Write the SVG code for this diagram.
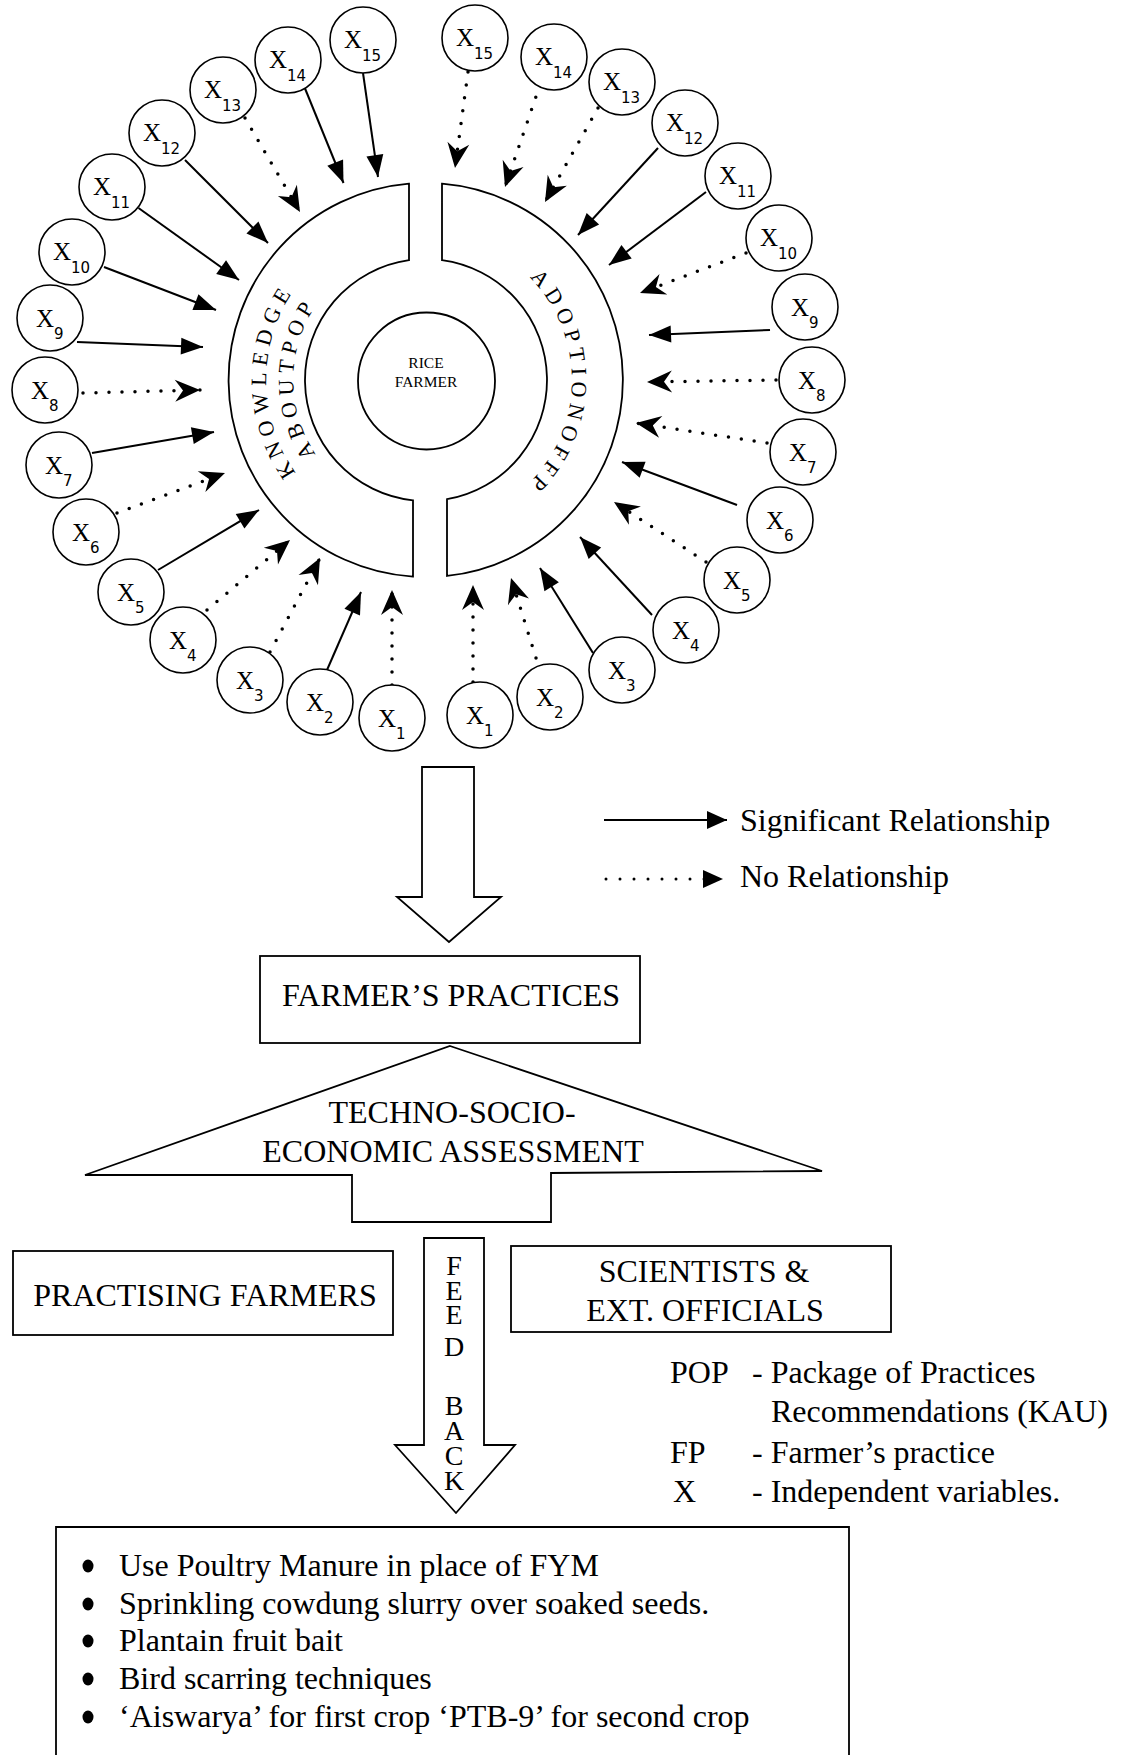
<svg xmlns="http://www.w3.org/2000/svg" width="1128" height="1755" viewBox="0 0 1128 1755">
<style>
.ln{fill:none;stroke:#000;stroke-width:1.8}
.node circle{fill:#fff;stroke:#000;stroke-width:1.6}
.xl{font-family:"Liberation Serif",serif;font-size:25px;fill:#000}
.sub{font-family:"DejaVu Sans",sans-serif;font-size:15px}
.sol{fill:none;stroke:#000;stroke-width:2;marker-end:url(#ah)}
.dot{fill:none;stroke:#000;stroke-width:3.5;stroke-linecap:round;stroke-dasharray:0 13;marker-end:url(#ahd)}
.rt{font-family:"Liberation Serif",serif;font-size:22px;fill:#000}
.t{font-family:"Liberation Serif",serif;font-size:32px;fill:#000}
.tm{font-family:"Liberation Serif",serif;font-size:32px;fill:#000;text-anchor:middle}
.fb{font-family:"Liberation Serif",serif;font-size:28px;fill:#000;text-anchor:middle}
</style>
<defs>
<marker id="ah" markerUnits="userSpaceOnUse" orient="auto" refX="0" refY="0" markerWidth="30" markerHeight="30" style="overflow:visible"><path d="M0,0 L-22,-8.5 L-22,8.5 Z" fill="#000"/></marker>
<marker id="ahd" markerUnits="userSpaceOnUse" orient="auto" refX="0" refY="0" markerWidth="30" markerHeight="30" style="overflow:visible"><path d="M0,0 L-25,-11 L-17,0 L-25,11 Z" fill="#000"/></marker>
<marker id="ahl" markerUnits="userSpaceOnUse" orient="auto" refX="0" refY="0" markerWidth="30" markerHeight="30" style="overflow:visible"><path d="M0,0 L-20,-9 L-20,9 Z" fill="#000"/></marker>
<path id="pk" d="M399.4,537.5 A159.7,159.7 0 0 1 397.2,222.9"/>
<path id="pa" d="M401.4,510.4 A132.7,132.7 0 0 1 404.6,249"/>
<path id="pd" d="M454.05,237 A145.7,145.7 0 0 1 448.5,523.95"/>
</defs>
<rect width="1128" height="1755" fill="#fff"/>

<g id="ring-knowledge">
<path class="ln" d="M409,183.7 A197,197 0 0 0 413,576.6 L413,500.3 A121,121 0 0 1 409,260.2 Z"/>
<text class="rt" style="letter-spacing:6.2px;text-anchor:middle"><textPath href="#pk" startOffset="50%">KNOWLEDGE</textPath></text>
<text class="rt" style="letter-spacing:5.6px;word-spacing:-11.1px;text-anchor:middle"><textPath href="#pa" startOffset="50%">ABOUT POP</textPath></text>
</g>
<g id="ring-adoption">
<path class="ln" d="M442,183.7 A197,197 0 0 1 447,575.9 L447,499.2 A121,121 0 0 0 442,260.1 Z"/>
<text class="rt" style="letter-spacing:5.7px;word-spacing:-11.2px;text-anchor:middle"><textPath href="#pd" startOffset="50%">ADOPTION OF FP</textPath></text>
</g>
<g id="rice-farmer">
<circle cx="426.5" cy="381" r="68.5" class="ln"/>
<text x="426" y="368" style="font-family:'Liberation Serif',serif;font-size:15.5px;text-anchor:middle">RICE</text>
<text x="426" y="387" style="font-family:'Liberation Serif',serif;font-size:15.5px;text-anchor:middle">FARMER</text>
</g>

<g id="connectors">
<path class="sol" d="M363,73 L378,177"/>
<path class="sol" d="M304,86 L343.5,183"/>
<path class="dot" d="M245,118 L300,212"/>
<path class="sol" d="M185,160 L268,243"/>
<path class="sol" d="M138.5,208 L239,280"/>
<path class="sol" d="M104,267 L216,310"/>
<path class="sol" d="M77,342 L203,347"/>
<path class="dot" d="M83,393 L200,390"/>
<path class="sol" d="M92,453 L214,432"/>
<path class="dot" d="M117,513 L225,473"/>
<path class="sol" d="M158,570 L259,510"/>
<path class="dot" d="M207,610 L290,540"/>
<path class="dot" d="M270,652 L320,558"/>
<path class="sol" d="M327,670 L361,592"/>
<path class="dot" d="M392,685 L392,590"/>
<path class="dot" d="M473,682 L473,585"/>
<path class="dot" d="M536,658 L511,578"/>
<path class="sol" d="M593,653 L540,568"/>
<path class="sol" d="M652,615 L580,537"/>
<path class="dot" d="M706,562 L614,502"/>
<path class="sol" d="M737,505 L622,462"/>
<path class="dot" d="M767,443 L636,423"/>
<path class="dot" d="M776,380 L647,382"/>
<path class="sol" d="M770,330 L649,335"/>
<path class="dot" d="M746,253 L640,293"/>
<path class="sol" d="M706,192 L609,265"/>
<path class="sol" d="M658,148 L578,235"/>
<path class="dot" d="M598,108 L545,202"/>
<path class="dot" d="M540,85 L505,187"/>
<path class="dot" d="M468,72 L455,168"/>
</g>

<g id="x1-l" class="node"><circle cx="392" cy="718" r="33"/><text class="xl" x="378" y="727">X<tspan class="sub" dy="12">1</tspan></text></g>
<g id="x2-l" class="node"><circle cx="320" cy="702" r="33"/><text class="xl" x="306" y="711">X<tspan class="sub" dy="12">2</tspan></text></g>
<g id="x3-l" class="node"><circle cx="250" cy="680" r="33"/><text class="xl" x="236" y="689">X<tspan class="sub" dy="12">3</tspan></text></g>
<g id="x4-l" class="node"><circle cx="183" cy="640" r="33"/><text class="xl" x="169" y="649">X<tspan class="sub" dy="12">4</tspan></text></g>
<g id="x5-l" class="node"><circle cx="131" cy="592" r="33"/><text class="xl" x="117" y="601">X<tspan class="sub" dy="12">5</tspan></text></g>
<g id="x6-l" class="node"><circle cx="86" cy="532" r="33"/><text class="xl" x="72" y="541">X<tspan class="sub" dy="12">6</tspan></text></g>
<g id="x7-l" class="node"><circle cx="59" cy="465" r="33"/><text class="xl" x="45" y="474">X<tspan class="sub" dy="12">7</tspan></text></g>
<g id="x8-l" class="node"><circle cx="45" cy="390" r="33"/><text class="xl" x="31" y="399">X<tspan class="sub" dy="12">8</tspan></text></g>
<g id="x9-l" class="node"><circle cx="50" cy="318" r="33"/><text class="xl" x="36" y="327">X<tspan class="sub" dy="12">9</tspan></text></g>
<g id="x10-l" class="node"><circle cx="72" cy="252" r="33"/><text class="xl" x="53" y="260">X<tspan class="sub" dy="13">10</tspan></text></g>
<g id="x11-l" class="node"><circle cx="112" cy="187" r="33"/><text class="xl" x="93" y="195">X<tspan class="sub" dy="13">11</tspan></text></g>
<g id="x12-l" class="node"><circle cx="162" cy="133" r="33"/><text class="xl" x="143" y="141">X<tspan class="sub" dy="13">12</tspan></text></g>
<g id="x13-l" class="node"><circle cx="223" cy="90" r="33"/><text class="xl" x="204" y="98">X<tspan class="sub" dy="13">13</tspan></text></g>
<g id="x14-l" class="node"><circle cx="288" cy="60" r="33"/><text class="xl" x="269" y="68">X<tspan class="sub" dy="13">14</tspan></text></g>
<g id="x15-l" class="node"><circle cx="363" cy="40" r="33"/><text class="xl" x="344" y="48">X<tspan class="sub" dy="13">15</tspan></text></g>

<g id="x1-r" class="node"><circle cx="480" cy="715" r="33"/><text class="xl" x="466" y="724">X<tspan class="sub" dy="12">1</tspan></text></g>
<g id="x2-r" class="node"><circle cx="550" cy="697" r="33"/><text class="xl" x="536" y="706">X<tspan class="sub" dy="12">2</tspan></text></g>
<g id="x3-r" class="node"><circle cx="622" cy="670" r="33"/><text class="xl" x="608" y="679">X<tspan class="sub" dy="12">3</tspan></text></g>
<g id="x4-r" class="node"><circle cx="686" cy="630" r="33"/><text class="xl" x="672" y="639">X<tspan class="sub" dy="12">4</tspan></text></g>
<g id="x5-r" class="node"><circle cx="737" cy="580" r="33"/><text class="xl" x="723" y="589">X<tspan class="sub" dy="12">5</tspan></text></g>
<g id="x6-r" class="node"><circle cx="780" cy="520" r="33"/><text class="xl" x="766" y="529">X<tspan class="sub" dy="12">6</tspan></text></g>
<g id="x7-r" class="node"><circle cx="803" cy="452" r="33"/><text class="xl" x="789" y="461">X<tspan class="sub" dy="12">7</tspan></text></g>
<g id="x8-r" class="node"><circle cx="812" cy="380" r="33"/><text class="xl" x="798" y="389">X<tspan class="sub" dy="12">8</tspan></text></g>
<g id="x9-r" class="node"><circle cx="805" cy="307" r="33"/><text class="xl" x="791" y="316">X<tspan class="sub" dy="12">9</tspan></text></g>
<g id="x10-r" class="node"><circle cx="779" cy="238" r="33"/><text class="xl" x="760" y="246">X<tspan class="sub" dy="13">10</tspan></text></g>
<g id="x11-r" class="node"><circle cx="738" cy="176" r="33"/><text class="xl" x="719" y="184">X<tspan class="sub" dy="13">11</tspan></text></g>
<g id="x12-r" class="node"><circle cx="685" cy="123" r="33"/><text class="xl" x="666" y="131">X<tspan class="sub" dy="13">12</tspan></text></g>
<g id="x13-r" class="node"><circle cx="622" cy="82" r="33"/><text class="xl" x="603" y="90">X<tspan class="sub" dy="13">13</tspan></text></g>
<g id="x14-r" class="node"><circle cx="554" cy="57" r="33"/><text class="xl" x="535" y="65">X<tspan class="sub" dy="13">14</tspan></text></g>
<g id="x15-r" class="node"><circle cx="475" cy="38" r="33"/><text class="xl" x="456" y="46">X<tspan class="sub" dy="13">15</tspan></text></g>

<g id="legend-lines">
<path d="M604,820 L727,820" stroke="#000" stroke-width="2" fill="none" marker-end="url(#ahl)"/>
<text class="t" x="740" y="831">Significant Relationship</text>
<path d="M606,879 L723,879" stroke="#000" stroke-width="3" stroke-linecap="round" stroke-dasharray="0 14" fill="none" marker-end="url(#ahl)"/>
<text class="t" x="740" y="887">No Relationship</text>
</g>

<g id="big-arrow">
<path class="ln" d="M422,767 L474,767 L474,897 L501,897 L449,942 L397,897 L422,897 Z"/>
</g>
<g id="farmers-practices">
<rect class="ln" x="260" y="956" width="380" height="87"/>
<text class="tm" x="451" y="1006">FARMER’S PRACTICES</text>
</g>
<g id="assessment">
<path class="ln" d="M450,1046 L822,1171 L551,1173 L551,1222 L352,1222 L352,1175 L85,1175 Z"/>
<text class="tm" x="452" y="1123">TECHNO-SOCIO-</text>
<text class="tm" x="453" y="1162">ECONOMIC ASSESSMENT</text>
</g>
<g id="practising-farmers">
<rect class="ln" x="13" y="1251" width="380" height="84"/>
<text class="tm" x="205" y="1306">PRACTISING FARMERS</text>
</g>
<g id="scientists">
<rect class="ln" x="511" y="1246" width="380" height="86"/>
<text class="tm" x="704" y="1282">SCIENTISTS &amp;</text>
<text class="tm" x="705" y="1321">EXT. OFFICIALS</text>
</g>
<g id="feedback">
<path class="ln" d="M424,1238 L484,1238 L484,1445 L515,1445 L456,1513 L395,1445 L424,1445 Z"/>
<text class="fb"><tspan x="454" y="1275">F</tspan><tspan x="454" y="1300">E</tspan><tspan x="454" y="1324">E</tspan><tspan x="454" y="1356">D</tspan></text>
<text class="fb"><tspan x="454" y="1415">B</tspan><tspan x="454" y="1440">A</tspan><tspan x="454" y="1465">C</tspan><tspan x="454" y="1490">K</tspan></text>
</g>
<g id="abbreviations">
<text class="t" y="1383"><tspan x="670">POP</tspan><tspan x="752">- Package of Practices</tspan></text>
<text class="t" x="771" y="1422">Recommendations (KAU)</text>
<text class="t" y="1463"><tspan x="670">FP</tspan><tspan x="752">- Farmer’s practice</tspan></text>
<text class="t" y="1502"><tspan x="673">X</tspan><tspan x="752">- Independent variables.</tspan></text>
</g>
<g id="recommendations">
<path class="ln" d="M56,1760 L56,1527 L849,1527 L849,1760"/>
<ellipse cx="88" cy="1566" rx="5.5" ry="6.5"/>
<ellipse cx="88" cy="1604" rx="5.5" ry="6.5"/>
<ellipse cx="88" cy="1641" rx="5.5" ry="6.5"/>
<ellipse cx="88" cy="1679" rx="5.5" ry="6.5"/>
<ellipse cx="88" cy="1717" rx="5.5" ry="6.5"/>
<text class="t" x="119" y="1576">Use Poultry Manure in place of FYM</text>
<text class="t" x="119" y="1614">Sprinkling cowdung slurry over soaked seeds.</text>
<text class="t" x="119" y="1651">Plantain fruit bait</text>
<text class="t" x="119" y="1689">Bird scarring techniques</text>
<text class="t" x="119" y="1727">‘Aiswarya’ for first crop ‘PTB-9’ for second crop</text>
</g>
</svg>
